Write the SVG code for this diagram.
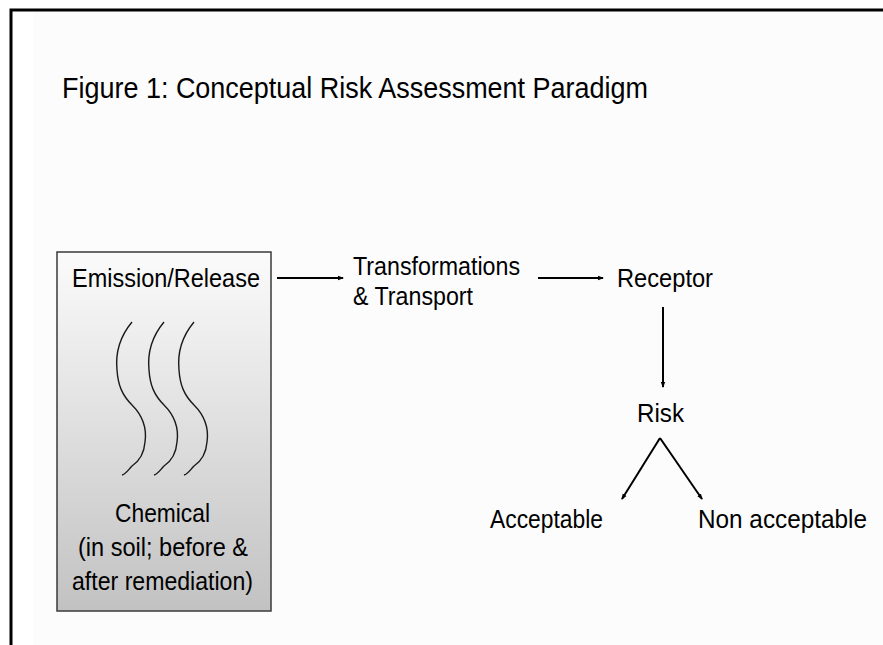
<svg xmlns="http://www.w3.org/2000/svg" width="883" height="645" viewBox="0 0 883 645">
  <defs>
    <linearGradient id="boxGrad" x1="0" y1="0" x2="0" y2="1">
      <stop offset="0" stop-color="#fbfbfb"/>
      <stop offset="1" stop-color="#c2c2c2"/>
    </linearGradient>
    <marker id="arrow" viewBox="0 0 6 6" refX="5" refY="3" markerWidth="6" markerHeight="6" markerUnits="userSpaceOnUse" orient="auto">
      <path d="M0,0.8 L6,3 L0,5.2 Z" fill="#000"/>
    </marker>
  </defs>
  <style>
    text { font-family: "Liberation Sans", Arial, sans-serif; fill: #000; }
    .lbl { font-size: 26px; }
    .title { font-size: 29px; }
    .conn { stroke: #000; stroke-width: 2; fill: none; }
    .wave { stroke: #1a1a1a; stroke-width: 1.4; fill: none; }
  </style>
  <rect x="0" y="0" width="883" height="645" fill="#ffffff"/>
  <rect x="33" y="12" width="850" height="633" fill="#fcfcfc"/>
  <path d="M11,645 L11,10 L883,10" fill="none" stroke="#000" stroke-width="3"/>

  <text class="title" x="62" y="98" textLength="586" lengthAdjust="spacingAndGlyphs">Figure 1: Conceptual Risk Assessment Paradigm</text>

  <g id="emission">
    <rect x="57" y="252" width="214" height="359" fill="url(#boxGrad)" stroke="#3a3a3a" stroke-width="1.5"/>
    <text class="lbl" x="72" y="287" textLength="188" lengthAdjust="spacingAndGlyphs">Emission/Release</text>
    <g id="waves">
      <path class="wave" d="M132,322 C122,334 115,350 117,370 C118,385 122,395 132,405 C142,415 147,428 145,442 C144,455 138,462 132,466 C128,470 126,474 122,475"/>
      <path class="wave" transform="translate(32,0)" d="M132,322 C122,334 115,350 117,370 C118,385 122,395 132,405 C142,415 147,428 145,442 C144,455 138,462 132,466 C128,470 126,474 122,475"/>
      <path class="wave" transform="translate(62,0)" d="M132,322 C122,334 115,350 117,370 C118,385 122,395 132,405 C142,415 147,428 145,442 C144,455 138,462 132,466 C128,470 126,474 122,475"/>
    </g>
    <text class="lbl" x="115" y="522" textLength="95" lengthAdjust="spacingAndGlyphs">Chemical</text>
    <text class="lbl" x="78" y="556" textLength="170" lengthAdjust="spacingAndGlyphs">(in soil; before &amp;</text>
    <text class="lbl" x="72" y="590" textLength="181" lengthAdjust="spacingAndGlyphs">after remediation)</text>
  </g>

  <g id="transformations">
    <text class="lbl" x="353" y="275" textLength="167" lengthAdjust="spacingAndGlyphs">Transformations</text>
    <text class="lbl" x="353" y="305" textLength="120" lengthAdjust="spacingAndGlyphs">&amp; Transport</text>
  </g>

  <g id="receptor">
    <text class="lbl" x="617" y="287" textLength="96" lengthAdjust="spacingAndGlyphs">Receptor</text>
  </g>

  <g id="risk">
    <text class="lbl" x="637" y="422" textLength="47" lengthAdjust="spacingAndGlyphs">Risk</text>
  </g>

  <g id="acceptable">
    <text class="lbl" x="490" y="528" textLength="113" lengthAdjust="spacingAndGlyphs">Acceptable</text>
  </g>

  <g id="nonacceptable">
    <text class="lbl" x="698" y="528" textLength="169" lengthAdjust="spacingAndGlyphs">Non acceptable</text>
  </g>

  <g id="connectors">
    <line class="conn" x1="277" y1="278" x2="343" y2="278" marker-end="url(#arrow)"/>
    <line class="conn" x1="538" y1="278" x2="603" y2="278" marker-end="url(#arrow)"/>
    <line class="conn" x1="663" y1="307" x2="663" y2="387" marker-end="url(#arrow)"/>
    <line class="conn" x1="660" y1="438" x2="622" y2="499" marker-end="url(#arrow)"/>
    <line class="conn" x1="660" y1="438" x2="702" y2="499" stroke-width="2.8" marker-end="url(#arrow)"/>
  </g>
</svg>
